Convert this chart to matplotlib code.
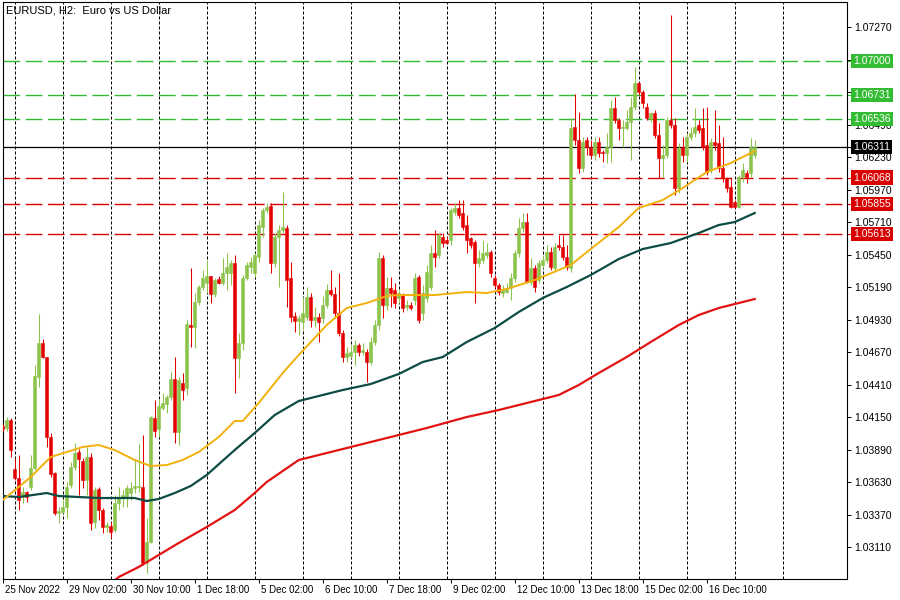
import numpy as np
import matplotlib
matplotlib.use("Agg")
import matplotlib.pyplot as plt
from matplotlib.transforms import ScaledTranslation

plt.rcParams["font.family"] = ["Liberation Sans", "DejaVu Sans"]

# EURUSD H2 candles (bar 0 = 25 Nov 2022 18:00)
opens = [1.04080, 1.04064, 1.04128, 1.03736, 1.03664, 1.03512, 1.03552, 1.03592, 1.03744, 1.04472,
         1.04744, 1.04632, 1.03992, 1.03704, 1.03384, 1.03392, 1.03432, 1.03608, 1.03752, 1.03872,
         1.03800, 1.03648, 1.03832, 1.03312, 1.03576, 1.03408, 1.03272, 1.03280, 1.03248, 1.03464,
         1.03504, 1.03512, 1.03544, 1.03584, 1.03592, 1.03592, 1.02984, 1.03152, 1.04144, 1.04056,
         1.04224, 1.04256, 1.04312, 1.04456, 1.04032, 1.04424, 1.04384, 1.04888, 1.04872, 1.05072,
         1.05192, 1.05224, 1.05280, 1.05136, 1.05256, 1.05224, 1.05304, 1.05304, 1.05384, 1.04624,
         1.04744, 1.05264, 1.05352, 1.05304, 1.05432, 1.05672, 1.05808, 1.05840, 1.05384, 1.05592,
         1.05648, 1.05664, 1.05264, 1.04960, 1.04920, 1.04912, 1.04952, 1.05112, 1.04928, 1.04952,
         1.04944, 1.05048, 1.05168, 1.05136, 1.04984, 1.04824, 1.04632, 1.04640, 1.04672, 1.04728,
         1.04672, 1.04672, 1.04592, 1.04752, 1.04888, 1.05424, 1.05048, 1.05184, 1.05168, 1.05104,
         1.05128, 1.05032, 1.05048, 1.05088, 1.05272, 1.04984, 1.05104, 1.05192, 1.05464, 1.05448,
         1.05592, 1.05568, 1.05568, 1.05792, 1.05824, 1.05784, 1.05688, 1.05584, 1.05552, 1.05384,
         1.05408, 1.05448, 1.05472, 1.05264, 1.05208, 1.05144, 1.05152, 1.05184, 1.05264, 1.05464,
         1.05664, 1.05712, 1.05232, 1.05344, 1.05248, 1.05368, 1.05408, 1.05472, 1.05344, 1.05528,
         1.05512, 1.05432, 1.05344, 1.06472, 1.06368, 1.06144, 1.06368, 1.06312, 1.06248, 1.06352,
         1.06272, 1.06264, 1.06312, 1.06624, 1.06528, 1.06464, 1.06464, 1.06512, 1.06632, 1.06824,
         1.06752, 1.06632, 1.06544, 1.06584, 1.06408, 1.06224, 1.06248, 1.06528, 1.06488, 1.05984,
         1.06312, 1.06248, 1.06392, 1.06424, 1.06488, 1.06464, 1.06328, 1.06128, 1.06352, 1.06344,
         1.06144, 1.06064, 1.05992, 1.05872, 1.05832, 1.06072, 1.06104, 1.06104, 1.06248]
highs = [1.04096, 1.04152, 1.04144, 1.03824, 1.03848, 1.03592, 1.03560, 1.03848, 1.04568, 1.04976,
         1.04776, 1.04632, 1.04024, 1.03712, 1.03432, 1.03488, 1.03632, 1.03792, 1.03944, 1.03896,
         1.03824, 1.03912, 1.03864, 1.03592, 1.03592, 1.03424, 1.03312, 1.03312, 1.03528, 1.03592,
         1.03568, 1.03608, 1.03632, 1.03808, 1.03936, 1.04008, 1.03344, 1.04160, 1.04288, 1.04296,
         1.04344, 1.04328, 1.04512, 1.04632, 1.04472, 1.04504, 1.04928, 1.05344, 1.05144, 1.05208,
         1.05328, 1.05408, 1.05280, 1.05264, 1.05280, 1.05424, 1.05464, 1.05408, 1.05448, 1.04824,
         1.05288, 1.05392, 1.05432, 1.05464, 1.05728, 1.05824, 1.05864, 1.05864, 1.05624, 1.05688,
         1.05952, 1.05688, 1.05392, 1.04992, 1.04968, 1.05112, 1.05192, 1.05144, 1.05032, 1.04984,
         1.05120, 1.05216, 1.05328, 1.05192, 1.05304, 1.04848, 1.04712, 1.04728, 1.04768, 1.04744,
         1.04744, 1.04696, 1.04792, 1.04928, 1.05472, 1.05448, 1.05272, 1.05272, 1.05224, 1.05168,
         1.05144, 1.05088, 1.05072, 1.05304, 1.05288, 1.05208, 1.05368, 1.05528, 1.05648, 1.05624,
         1.05624, 1.05592, 1.05824, 1.05864, 1.05888, 1.05888, 1.05768, 1.05592, 1.05568, 1.05488,
         1.05568, 1.05544, 1.05488, 1.05288, 1.05224, 1.05208, 1.05224, 1.05304, 1.05488, 1.05744,
         1.05784, 1.05784, 1.05424, 1.05368, 1.05408, 1.05448, 1.05528, 1.05512, 1.05544, 1.05608,
         1.05608, 1.05528, 1.06544, 1.06736, 1.06592, 1.06392, 1.06392, 1.06368, 1.06392, 1.06392,
         1.06288, 1.06424, 1.06688, 1.06712, 1.06544, 1.06528, 1.06608, 1.06712, 1.06952, 1.06832,
         1.06768, 1.06664, 1.06592, 1.06608, 1.06504, 1.06328, 1.06552, 1.07368, 1.06544, 1.06344,
         1.06392, 1.06424, 1.06472, 1.06624, 1.06528, 1.06624, 1.06632, 1.06384, 1.06608, 1.06488,
         1.06392, 1.06072, 1.06072, 1.05888, 1.06088, 1.06184, 1.06128, 1.06384, 1.06368]
lows = [1.04040, 1.04040, 1.03832, 1.03648, 1.03408, 1.03464, 1.03472, 1.03568, 1.03728, 1.04392,
        1.04624, 1.03912, 1.03672, 1.03368, 1.03304, 1.03384, 1.03344, 1.03584, 1.03728, 1.03528,
        1.03584, 1.03528, 1.03248, 1.03264, 1.03328, 1.03224, 1.03232, 1.03184, 1.03232, 1.03408,
        1.03432, 1.03432, 1.03488, 1.03544, 1.03552, 1.02968, 1.02904, 1.03144, 1.03992, 1.03992,
        1.04208, 1.04184, 1.04288, 1.03944, 1.03928, 1.04288, 1.04328, 1.04712, 1.04704, 1.05048,
        1.05168, 1.05144, 1.05064, 1.05112, 1.05216, 1.05208, 1.05168, 1.05208, 1.04344, 1.04464,
        1.04688, 1.05248, 1.05304, 1.05272, 1.05392, 1.05592, 1.05784, 1.05304, 1.05352, 1.05192,
        1.05624, 1.05032, 1.04912, 1.04832, 1.04808, 1.04848, 1.04928, 1.04872, 1.04872, 1.04752,
        1.04904, 1.05024, 1.05120, 1.04944, 1.04800, 1.04592, 1.04592, 1.04624, 1.04568, 1.04640,
        1.04648, 1.04432, 1.04568, 1.04728, 1.04848, 1.04944, 1.05008, 1.05032, 1.05024, 1.05064,
        1.04992, 1.05008, 1.05008, 1.05048, 1.04904, 1.04928, 1.05072, 1.05168, 1.05352, 1.05424,
        1.05512, 1.05536, 1.05528, 1.05768, 1.05744, 1.05648, 1.05464, 1.05504, 1.05064, 1.05352,
        1.05384, 1.05424, 1.05272, 1.05184, 1.05128, 1.05112, 1.05144, 1.05088, 1.05232, 1.05432,
        1.05632, 1.05224, 1.05208, 1.05152, 1.05224, 1.05344, 1.05384, 1.05328, 1.05312, 1.05488,
        1.05408, 1.05328, 1.05312, 1.06328, 1.06104, 1.06112, 1.06248, 1.06224, 1.06208, 1.06232,
        1.06192, 1.06184, 1.06192, 1.06504, 1.06368, 1.06312, 1.06448, 1.06208, 1.06608, 1.06728,
        1.06624, 1.06528, 1.06512, 1.06384, 1.06064, 1.06072, 1.06224, 1.06464, 1.05928, 1.05944,
        1.06192, 1.06192, 1.06368, 1.06392, 1.06424, 1.06288, 1.06088, 1.06104, 1.06288, 1.06112,
        1.06032, 1.05952, 1.05824, 1.05824, 1.05824, 1.06032, 1.06024, 1.06072, 1.06224]
closes = [1.04056, 1.04128, 1.03888, 1.03664, 1.03488, 1.03552, 1.03512, 1.03744, 1.04480, 1.04744,
          1.04632, 1.03992, 1.03696, 1.03384, 1.03400, 1.03432, 1.03592, 1.03752, 1.03864, 1.03816,
          1.03648, 1.03832, 1.03304, 1.03568, 1.03408, 1.03272, 1.03288, 1.03232, 1.03464, 1.03512,
          1.03528, 1.03584, 1.03584, 1.03600, 1.03600, 1.02984, 1.03152, 1.04152, 1.04040, 1.04240,
          1.04264, 1.04312, 1.04456, 1.04032, 1.04448, 1.04368, 1.04896, 1.04872, 1.05072, 1.05192,
          1.05264, 1.05280, 1.05136, 1.05248, 1.05224, 1.05304, 1.05352, 1.05384, 1.04624, 1.04744,
          1.05264, 1.05368, 1.05392, 1.05448, 1.05688, 1.05808, 1.05832, 1.05384, 1.05592, 1.05648,
          1.05672, 1.05248, 1.04952, 1.04920, 1.04944, 1.04984, 1.05112, 1.04928, 1.04952, 1.04912,
          1.05048, 1.05168, 1.05136, 1.04984, 1.04824, 1.04632, 1.04664, 1.04672, 1.04728, 1.04672,
          1.04688, 1.04592, 1.04752, 1.04888, 1.05424, 1.05048, 1.05184, 1.05144, 1.05064, 1.05144,
          1.05024, 1.05048, 1.05024, 1.05264, 1.04928, 1.05144, 1.05312, 1.05464, 1.05432, 1.05608,
          1.05544, 1.05544, 1.05808, 1.05824, 1.05768, 1.05672, 1.05568, 1.05528, 1.05384, 1.05424,
          1.05464, 1.05472, 1.05304, 1.05208, 1.05152, 1.05168, 1.05184, 1.05264, 1.05464, 1.05664,
          1.05712, 1.05232, 1.05344, 1.05192, 1.05384, 1.05408, 1.05472, 1.05352, 1.05512, 1.05512,
          1.05432, 1.05352, 1.06464, 1.06368, 1.06144, 1.06352, 1.06312, 1.06248, 1.06352, 1.06264,
          1.06264, 1.06312, 1.06624, 1.06528, 1.06464, 1.06472, 1.06512, 1.06632, 1.06824, 1.06752,
          1.06664, 1.06544, 1.06584, 1.06408, 1.06224, 1.06248, 1.06528, 1.06488, 1.05984, 1.06304,
          1.06248, 1.06392, 1.06424, 1.06472, 1.06448, 1.06312, 1.06112, 1.06352, 1.06328, 1.06144,
          1.06064, 1.05984, 1.05832, 1.05832, 1.06072, 1.06128, 1.06072, 1.06312, 1.06311]

# moving averages at these bars
ma_fast_idx = [0, 4, 7, 12, 16, 20, 24, 28, 33, 37, 41, 45, 49, 54, 58, 60, 64, 70, 74, 81,
               86, 91, 96, 99, 108, 116, 121, 126, 133, 139, 142, 147, 154, 159, 165, 170, 176, 182, 188]
ma_fast = [1.03488, 1.03592, 1.03672, 1.03832, 1.03872, 1.03912, 1.03928, 1.03888, 1.03808, 1.03760,
           1.03768, 1.03808, 1.03872, 1.03992, 1.04120, 1.04120, 1.04264, 1.04504, 1.04648, 1.04888,
           1.05024, 1.05064, 1.05120, 1.05128, 1.05128, 1.05152, 1.05144, 1.05176, 1.05248, 1.05328,
           1.05368, 1.05496, 1.05672, 1.05824, 1.05888, 1.05984, 1.06112, 1.06184, 1.06280]
ma_mid_idx = [0, 4, 11, 14, 24, 33, 36, 39, 43, 47, 51, 58, 63, 68, 74, 85, 92, 99, 105, 110,
              116, 123, 129, 135, 141, 147, 154, 160, 167, 174, 179, 183, 188]
ma_mid = [1.03520, 1.03512, 1.03544, 1.03520, 1.03504, 1.03504, 1.03480, 1.03496, 1.03544, 1.03600,
          1.03688, 1.03888, 1.04024, 1.04168, 1.04280, 1.04368, 1.04416, 1.04496, 1.04592, 1.04632,
          1.04752, 1.04864, 1.04992, 1.05104, 1.05192, 1.05288, 1.05416, 1.05496, 1.05544, 1.05624,
          1.05688, 1.05712, 1.05784]
ma_slow_idx = [27, 29, 34, 39, 44, 51, 58, 63, 66, 74, 87, 99, 106, 116, 124, 133, 139, 144, 149,
               156, 162, 169, 174, 179, 184, 188]
ma_slow = [1.02816, 1.02872, 1.02952, 1.03048, 1.03144, 1.03272, 1.03408, 1.03544, 1.03632, 1.03808,
           1.03912, 1.04008, 1.04064, 1.04152, 1.04208, 1.04280, 1.04328, 1.04408, 1.04504, 1.04632,
           1.04752, 1.04888, 1.04968, 1.05024, 1.05064, 1.05096]

# horizontal levels
res_levels = [1.07000, 1.06731, 1.06536]
sup_levels = [1.06068, 1.05855, 1.05613]
last_price = 1.06311

y_ticks = [1.07270, 1.07010, 1.06750, 1.06490, 1.06230, 1.05970, 1.05710, 1.05450, 1.05190,
           1.04930, 1.04670, 1.04410, 1.04150, 1.03890, 1.03630, 1.03370, 1.03110]
x_labels = ["25 Nov 2022", "29 Nov 02:00", "30 Nov 10:00", "1 Dec 18:00", "5 Dec 02:00",
            "6 Dec 10:00", "7 Dec 18:00", "9 Dec 02:00", "12 Dec 10:00", "13 Dec 18:00",
            "15 Dec 02:00", "16 Dec 10:00"]

UP = "#8cc34b"
DOWN = "#e50000"
LEV_GREEN = "#33bb33"
LEV_RED = "#d80000"

o = np.array(opens)
h = np.array(highs)
l = np.array(lows)
c = np.array(closes)
idx = np.arange(len(c))
cols = np.where(c >= o, UP, DOWN)

fig = plt.figure(figsize=(9, 6), dpi=100)
ax = fig.add_axes([2.7 / 900, 21 / 600, 844.3 / 900, 576.7 / 600])
ax.set_xlim(0, 211.07)
ax.set_ylim(1.02856, 1.07470)

# daily separators (midnight of each trading day)
for g in range(3, 200, 12):
    ax.axvline(g, color="black", lw=0.72, ls=(0, (3, 2)), zorder=1)

for lv in res_levels:
    ax.axhline(lv, color=LEV_GREEN, lw=1.0, ls=(0, (12, 4)), zorder=2)
for lv in sup_levels:
    ax.axhline(lv, color=LEV_RED, lw=1.0, ls=(0, (12, 4)), zorder=2)
ax.axhline(last_price, color="black", lw=0.9, zorder=2)

ax.vlines(idx, l, h, colors=cols, lw=0.75, zorder=3)
ax.bar(idx, np.abs(c - o), bottom=np.minimum(o, c), width=0.72, color=cols,
       edgecolor=cols, linewidth=0.4, zorder=4)

ax.plot(ma_slow_idx, ma_slow, color="#e31313", lw=1.6, zorder=5)
ax.plot(ma_mid_idx, ma_mid, color="#0d4c45", lw=1.6, zorder=5)
ax.plot(ma_fast_idx, ma_fast, color="#f2b10c", lw=1.4, zorder=5)

# axes styling
for s in ax.spines.values():
    s.set_linewidth(0.8)
ax.yaxis.tick_right()
ax.set_yticks(y_ticks)
ax.set_yticklabels(["%.5f" % t for t in y_ticks])
ax.tick_params(axis="y", direction="out", length=3, width=0.7, labelsize=7.5, pad=2)
ax.set_xticks(np.arange(0, 16 * len(x_labels), 16))
ax.set_xticklabels(x_labels, ha="left")
ax.tick_params(axis="x", direction="out", length=3, width=0.7, labelsize=7, pad=1.5)
shift = ScaledTranslation(2 / 100, 0, fig.dpi_scale_trans)
for lbl in ax.get_xticklabels():
    lbl.set_transform(lbl.get_transform() + shift)

# price boxes on the right scale
ytr = ax.get_yaxis_transform()
boxes = [(p, LEV_GREEN, "white") for p in res_levels] + \
        [(last_price, "black", "white")] + \
        [(p, LEV_RED, "white") for p in sup_levels]
for p, bg, fg in boxes:
    ax.plot([1.0, 1.005], [p, p], color=bg, lw=0.8, transform=ytr, clip_on=False)
    ax.text(1.0075, p, "%.5f" % p, transform=ytr, va="center", ha="left", fontsize=7.5,
            color=fg, clip_on=False, zorder=10,
            bbox=dict(boxstyle="square,pad=0.2", fc=bg, ec="none"))

ax.text(0.004, 0.994, "EURUSD, H2:  Euro vs US Dollar", transform=ax.transAxes,
        va="top", ha="left", fontsize=8, zorder=10)

fig.savefig("out.png", dpi=100)
